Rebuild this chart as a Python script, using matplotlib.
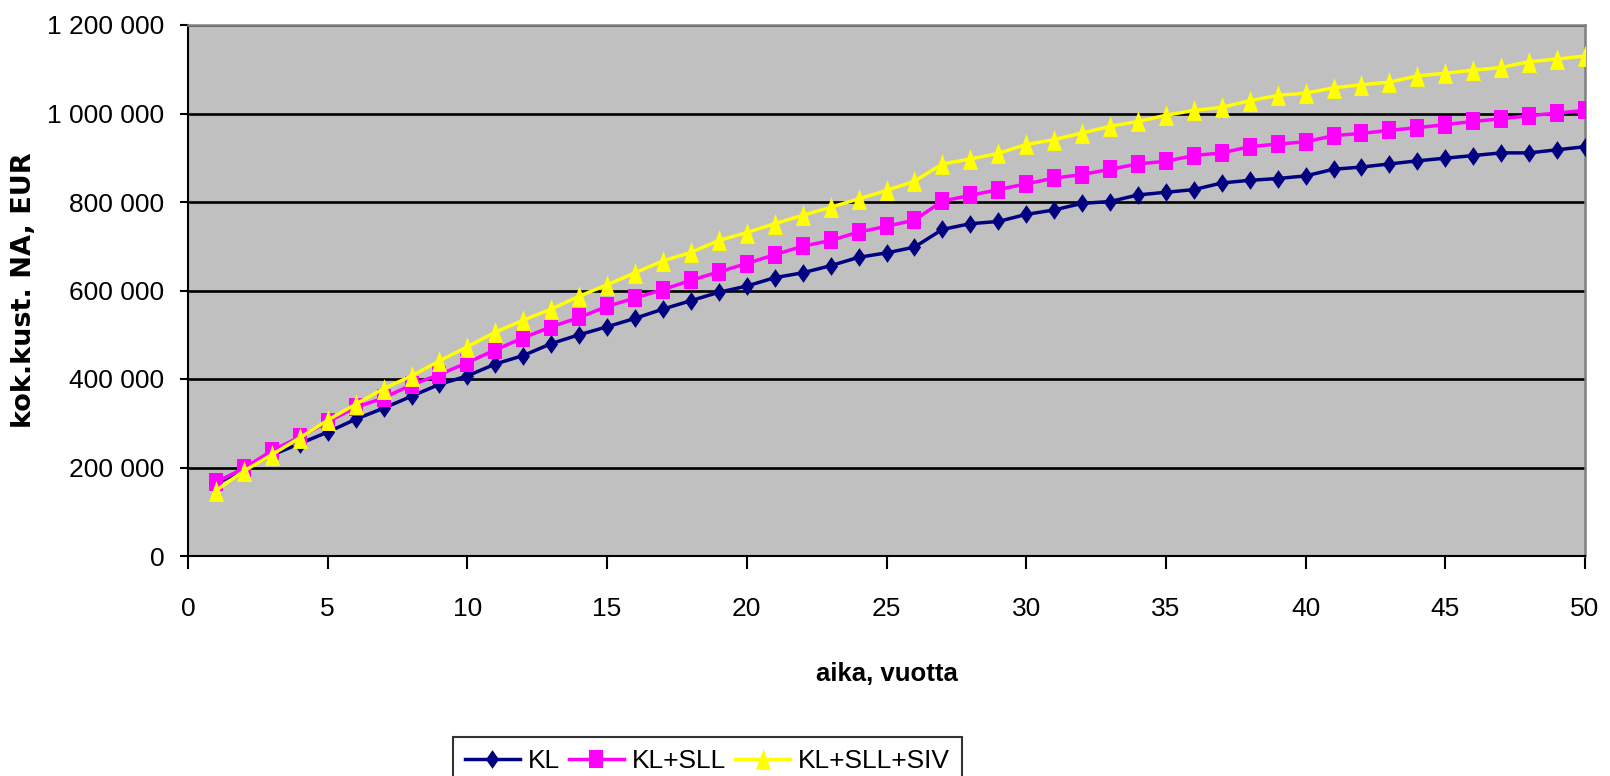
import numpy as np
import matplotlib
matplotlib.use("Agg")
import matplotlib.pyplot as plt
from matplotlib.ticker import FuncFormatter, MultipleLocator

plt.rcParams['font.family'] = ['Liberation Sans Narrow', 'Liberation Sans', 'DejaVu Sans']

# ===============================
# DATA
# ===============================
years = list(range(1, 51))

kl = [163000, 195000, 228000, 254000, 280000, 309000, 334000, 361000, 388000, 407000,
      434000, 453000, 480000, 500000, 518000, 537000, 558000, 577000, 596000, 610000,
      629000, 640000, 656000, 675000, 685000, 698000, 738000, 751000, 756000, 772000,
      782000, 797000, 801000, 816000, 822000, 828000, 843000, 849000, 853000, 859000,
      874000, 879000, 886000, 893000, 899000, 905000, 911000, 911000, 918000, 925000]

kl_sll = [167000, 198000, 238000, 269000, 303000, 336000, 357000, 387000, 410000, 437000,
          466000, 493000, 518000, 539000, 564000, 583000, 602000, 623000, 642000, 661000,
          681000, 700000, 713000, 732000, 745000, 759000, 802000, 815000, 828000, 841000,
          854000, 862000, 874000, 886000, 892000, 905000, 911000, 925000, 931000, 936000,
          950000, 955000, 962000, 968000, 975000, 982000, 988000, 995000, 1001000, 1007000]

kl_sll_siv = [148000, 192000, 229000, 267000, 307000, 343000, 378000, 407000, 441000, 473000,
              506000, 533000, 558000, 587000, 613000, 640000, 667000, 686000, 713000, 731000,
              751000, 770000, 788000, 807000, 826000, 847000, 886000, 897000, 910000, 930000,
              941000, 956000, 971000, 982000, 996000, 1007000, 1014000, 1029000, 1041000, 1046000,
              1058000, 1065000, 1071000, 1085000, 1091000, 1098000, 1104000, 1117000, 1123000, 1130000]

labels = ['KL', 'KL+SLL', 'KL+SLL+SIV']
colors = ['#000080', '#FF00FF', '#FFFF00']

# slightly tall marker shapes, like the original
diamond = [(0, 0.5), (0.35, 0), (0, -0.5), (-0.35, 0), (0, 0.5)]
square = [(-0.38, -0.5), (0.38, -0.5), (0.38, 0.5), (-0.38, 0.5), (-0.38, -0.5)]
triangle = [(0, 0.5), (0.36, -0.5), (-0.36, -0.5), (0, 0.5)]

# ===============================
# PLOT
# ===============================
fig = plt.figure(figsize=(16.1, 7.76), dpi=100)
ax = fig.add_axes([188 / 1610, 1 - 556 / 776, 1397 / 1610, 531 / 776])
ax.set_facecolor('#C0C0C0')

ax.plot(years, kl, color=colors[0], lw=2.5, marker=diamond, ms=13.5,
        markeredgewidth=0, label=labels[0], zorder=3)
ax.plot(years, kl_sll, color=colors[1], lw=2.5, marker=square, ms=12.5,
        markeredgewidth=0, label=labels[1], zorder=4)
ax.plot(years, kl_sll_siv, color=colors[2], lw=2.5, marker=triangle, ms=15,
        markeredgewidth=0, label=labels[2], zorder=5)

ax.set_xlim(0, 50)
ax.set_ylim(0, 1200000)
ax.xaxis.set_major_locator(MultipleLocator(5))
ax.yaxis.set_major_locator(MultipleLocator(200000))
ax.yaxis.set_major_formatter(FuncFormatter(lambda v, p: f"{v:,.0f}".replace(",", " ")))

ax.grid(axis='y', color='black', lw=1.9)
ax.set_axisbelow(True)

for side in ['left', 'bottom']:
    ax.spines[side].set_color('black')
    ax.spines[side].set_linewidth(1.5)
for side in ['top', 'right']:
    ax.spines[side].set_color('#808080')
    ax.spines[side].set_linewidth(1.8)

ax.tick_params(axis='x', direction='out', length=9.4, width=1.5, pad=20, labelsize=19)
ax.tick_params(axis='y', direction='out', length=6, width=1.5, pad=11, labelsize=19)

ax.set_xlabel('aika, vuotta', fontsize=18.5, fontweight='bold')
ax.xaxis.set_label_coords(0.5, -0.2)
ax.set_ylabel('kok.kust. NA, EUR', fontsize=19.5, fontweight='bold', family='DejaVu Sans')
ax.yaxis.set_label_coords(-0.108, 0.5)

leg = fig.legend(loc='upper left', bbox_to_anchor=(453 / 1610, 1 - 737 / 776),
                 ncol=3, fontsize=19, frameon=True, fancybox=False,
                 edgecolor='black', handlelength=2.08, handletextpad=0.3,
                 columnspacing=0.35, borderpad=0.45, borderaxespad=0)
leg.get_frame().set_linewidth(1.5)

fig.savefig('out.png', dpi=100)
